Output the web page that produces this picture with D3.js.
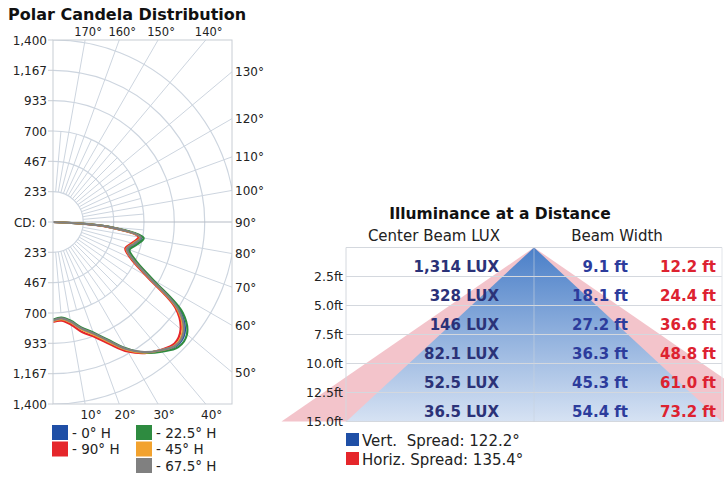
<!DOCTYPE html>
<html><head><meta charset="utf-8">
<script src="https://cdn.jsdelivr.net/npm/d3@7"></script>
<style>
body{margin:0;background:#fff}
svg{display:block}
text{font-family:"DejaVu Sans",Verdana,sans-serif}
</style>
</head><body>
<svg id="c" width="724" height="479"></svg>
<script>
// ---------- DATA ----------
const verticalAngles = [0,5,10,15,20,25,30,35,40,45,50,55,60,65,70,75,80,85,90];
const seriesNames = ["0° H","90° H","22.5° H","45° H","67.5° H"];
const seriesColors = ["#1f4fa6","#e5262b","#2e8b40","#f2a22e","#808080"];
const cd_0H    = [760,745,780,850,915,1010,1130,1225,1290,1345,1322,1192,862,680,610,650,690,430,0];
const cd_90H   = [768,762,802,878,942,1038,1150,1232,1285,1322,1282,1148,828,660,592,628,668,415,0];
const cd_22_5H = [752,738,770,840,905,1000,1122,1228,1302,1362,1345,1218,888,702,626,668,708,446,0];
const cd_45H   = [762,750,784,856,922,1018,1136,1226,1288,1336,1302,1168,848,672,602,640,680,425,0];
const cd_67_5H = [758,744,778,848,912,1008,1128,1222,1288,1340,1312,1180,856,676,606,646,686,428,0];
const seriesValues = [cd_0H, cd_90H, cd_22_5H, cd_45H, cd_67_5H];
const drawOrder = [0,1,2,3,4];

const cdTicks = [233,467,700,933,1167,1400];
const topAngleLabels = [170,160,150,140];
const rightAngleLabels = [130,120,110,100,90,80,70,60,50];
const bottomAngleLabels = [10,20,30,40];

const distances = [2.5,5.0,7.5,10.0,12.5,15.0];
const centerBeamLux = [1314,328,146,82.1,52.5,36.5];
const vertBeamWidth = [9.1,18.1,27.2,36.3,45.3,54.4];
const horizBeamWidth = [12.2,24.4,36.6,48.8,61.0,73.2];
const spreadNames = ["Vert.\u00a0 Spread: ","Horiz. Spread: "];
const spreadValues = [122.2,135.4];
const spreadColors = ["#1f4fa6","#e5262b"];

// ---------- POLAR CHART ----------
const svg = d3.select("#c");
const defs = svg.append("defs");
const plot = {x0:53, x1:232, y0:40, y1:404};
const cx = 53, cy = 222;
const r = d3.scaleLinear().domain([0,1400]).range([0,182]);
const rad = d => d*Math.PI/180;
const gridCol = "#cdd5df";

svg.append("text").attr("x",8).attr("y",20).attr("font-size",16).attr("font-weight","bold")
  .attr("fill","#111").text("Polar Candela Distribution");

defs.append("clipPath").attr("id","pc").append("rect")
  .attr("x",plot.x0).attr("y",plot.y0).attr("width",plot.x1-plot.x0).attr("height",plot.y1-plot.y0);

const pg = svg.append("g").attr("clip-path","url(#pc)");
pg.append("rect").attr("x",plot.x0).attr("y",plot.y0).attr("width",plot.x1-plot.x0)
  .attr("height",plot.y1-plot.y0).attr("fill","#fff");

// radial lines
for (let a=5; a<180; a+=5) {
  if (a===90) continue;
  const major = a%10===0;
  const r0 = r(233), r1 = major ? 500 : r(700);
  pg.append("line")
    .attr("x1",cx+r0*Math.sin(rad(a))).attr("y1",cy+r0*Math.cos(rad(a)))
    .attr("x2",cx+r1*Math.sin(rad(a))).attr("y2",cy+r1*Math.cos(rad(a)))
    .attr("stroke",gridCol).attr("stroke-width",1);
}
// circles
pg.selectAll("circle.g").data(cdTicks).join("circle")
  .attr("cx",cx).attr("cy",cy).attr("r",d=>r(d))
  .attr("fill","none").attr("stroke",gridCol).attr("stroke-width",1.2);
// 90 degree axis
pg.append("line").attr("x1",cx).attr("y1",cy).attr("x2",plot.x1).attr("y2",cy)
  .attr("stroke","#b5bcc6").attr("stroke-width",1.2);

// border
svg.append("rect").attr("x",plot.x0).attr("y",plot.y0).attr("width",plot.x1-plot.x0)
  .attr("height",plot.y1-plot.y0).attr("fill","none").attr("stroke","#c8cdd4").attr("stroke-width",1);

// curves
const lineGen = d3.lineRadial()
  .angle(d=>Math.PI - rad(d[0]))
  .radius(d=>r(d[1]))
  .curve(d3.curveCatmullRom.alpha(0.5));
const cg = pg.append("g").attr("transform",`translate(${cx},${cy})`);
drawOrder.forEach(i=>{
  const pts = verticalAngles.map((a,k)=>[a, seriesValues[i][k]]);
  cg.append("path").attr("d",lineGen(pts)).attr("fill","none")
    .attr("stroke",seriesColors[i]).attr("stroke-width",2.2).attr("stroke-linejoin","round");
});

// left axis labels
const fmt = d3.format(",");
const leftTicks = [];
cdTicks.forEach(v=>leftTicks.push({y:cy-r(v), t:fmt(v)}));
leftTicks.push({y:cy, t:"CD: 0"});
cdTicks.forEach(v=>leftTicks.push({y:cy+r(v), t:fmt(v)}));
leftTicks.forEach(d=>{
  svg.append("text").attr("x",47).attr("y",d.y+4.5).attr("text-anchor","end")
    .attr("font-size",12).attr("fill","#222").text(d.t);
  svg.append("line").attr("x1",48).attr("x2",plot.x0).attr("y1",d.y).attr("y2",d.y)
    .attr("stroke","#c8cdd4");
});
// top angle labels
topAngleLabels.forEach(a=>{
  const x = cx + (cy-plot.y0)*Math.tan(rad(180-a));
  svg.append("text").attr("x",x+3).attr("y",36).attr("text-anchor","middle")
    .attr("font-size",11.5).attr("fill","#222").text(a+"°");
});
// right angle labels
rightAngleLabels.forEach(a=>{
  const y = cy - (plot.x1-cx)*Math.tan(rad(a-90));
  svg.append("text").attr("x",plot.x1+3).attr("y",y+4.5).attr("text-anchor","start")
    .attr("font-size",12).attr("fill","#222").text(a+"°");
});
// bottom angle labels
bottomAngleLabels.forEach(a=>{
  const x = cx + (plot.y1-cy)*Math.tan(rad(a));
  svg.append("text").attr("x",x+6).attr("y",419).attr("text-anchor","middle")
    .attr("font-size",12).attr("fill","#222").text(a+"°");
});

// legend
const legendPos = [[52,425],[52,441.5],[136,425],[136,441.5],[136,458]];
seriesNames.forEach((n,i)=>{
  const [x,y] = legendPos[i];
  svg.append("rect").attr("x",x).attr("y",y).attr("width",16).attr("height",15).attr("fill",seriesColors[i]);
  svg.append("text").attr("x",x+20).attr("y",y+12.5).attr("font-size",13.5).attr("fill","#222").text("- "+n);
});

// ---------- ILLUMINANCE PANEL ----------
const tbl = {x0:346, x1:722};
const y = d3.scaleLinear().domain([0,15]).range([247.5,421.5]);
const x = d3.scaleLinear().domain([-40,40]).range([534-40*6.9, 534+40*6.9]);

svg.append("text").attr("x",500).attr("y",219).attr("text-anchor","middle")
  .attr("font-size",15.5).attr("font-weight","bold").attr("fill","#111").text("Illuminance at a Distance");
svg.append("text").attr("x",434).attr("y",241).attr("text-anchor","middle")
  .attr("font-size",15).attr("fill","#222").text("Center Beam LUX");
svg.append("text").attr("x",617).attr("y",241).attr("text-anchor","middle")
  .attr("font-size",15).attr("fill","#222").text("Beam Width");

svg.append("rect").attr("x",tbl.x0).attr("y",y(0)).attr("width",tbl.x1-tbl.x0)
  .attr("height",y(15)-y(0)).attr("fill","#fff");

const grad = defs.append("linearGradient").attr("id","bg").attr("x1",0).attr("y1",0).attr("x2",0).attr("y2",1);
grad.append("stop").attr("offset","0%").attr("stop-color","#4a7fc8");
grad.append("stop").attr("offset","100%").attr("stop-color","#d6e2f3");

const last = distances.length-1;
const tri = w => [[0,0],[-w/2,distances[last]],[w/2,distances[last]]].map(p=>[x(p[0]),y(p[1])]);
svg.append("polygon").attr("points",tri(horizBeamWidth[last]).join(" ")).attr("fill","#f3c4cb");
svg.append("polygon").attr("points",tri(vertBeamWidth[last]).join(" ")).attr("fill","url(#bg)");

// grid lines
distances.forEach(d=>{
  svg.append("line").attr("x1",tbl.x0).attr("x2",tbl.x1).attr("y1",y(d)).attr("y2",y(d))
    .attr("stroke","#d4d8de").attr("stroke-width",1);
});
svg.append("line").attr("x1",tbl.x0).attr("x2",tbl.x1).attr("y1",y(0)).attr("y2",y(0)).attr("stroke","#d4d8de");
svg.append("line").attr("x1",tbl.x0).attr("x2",tbl.x0).attr("y1",y(0)).attr("y2",y(15)).attr("stroke","#d4d8de");
svg.append("line").attr("x1",tbl.x1).attr("x2",tbl.x1).attr("y1",y(0)).attr("y2",y(15)).attr("stroke","#e2e5ea");
svg.append("line").attr("x1",x(0)).attr("x2",x(0)).attr("y1",y(0)).attr("y2",y(15)).attr("stroke","#c9d2de").attr("stroke-opacity",0.6);

const f1 = d3.format(".1f");
const luxFmt = v => v>=1000 ? d3.format(",")(v) : String(v);
distances.forEach((d,i)=>{
  svg.append("text").attr("x",343).attr("y",y(d)+4.5).attr("text-anchor","end")
    .attr("font-size",12.5).attr("fill","#222").text(f1(d)+"ft");
  const ty = y(d) - 5;
  svg.append("text").attr("x",499).attr("y",ty).attr("text-anchor","end")
    .attr("font-size",15).attr("font-weight","bold").attr("fill","#2b3278").text(luxFmt(centerBeamLux[i])+" LUX");
  svg.append("text").attr("x",628).attr("y",ty).attr("text-anchor","end")
    .attr("font-size",15).attr("font-weight","bold").attr("fill","#2c3c9c").text(f1(vertBeamWidth[i])+" ft");
  svg.append("text").attr("x",716).attr("y",ty).attr("text-anchor","end")
    .attr("font-size",15).attr("font-weight","bold").attr("fill","#dd2230").text(f1(horizBeamWidth[i])+" ft");
});

// spread legend
spreadNames.forEach((n,i)=>{
  const yy = 433 + i*19;
  svg.append("rect").attr("x",346).attr("y",yy).attr("width",13).attr("height",13).attr("fill",spreadColors[i]);
  svg.append("text").attr("x",362).attr("y",yy+12.5).attr("font-size",15).attr("fill","#222")
    .text(n + f1(spreadValues[i]) + "°");
});
</script>
</body></html>
